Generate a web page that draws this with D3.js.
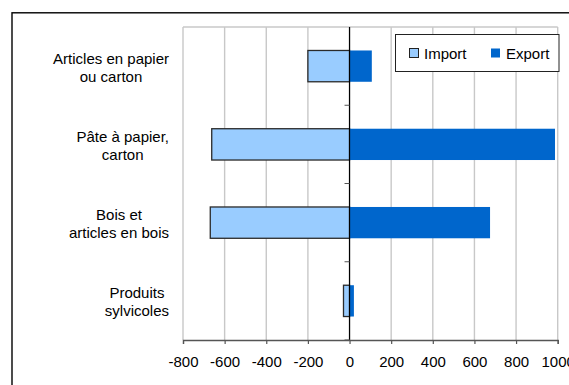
<!DOCTYPE html>
<html>
<head>
<meta charset="utf-8">
<script src="https://cdn.jsdelivr.net/npm/d3@7"></script>
<style>
  html, body { margin: 0; padding: 0; background: #fff; }
  svg { display: block; font-family: "Liberation Sans", Arial, sans-serif; }
</style>
</head>
<body>
<svg id="chart" width="569" height="385"></svg>
<script>
// Forest-products trade balance by category (import shown as negative values)
const categories = [
  ["Articles en papier", "ou carton"],
  ["Pâte à papier,", "carton"],
  ["Bois et", "articles en bois"],
  ["Produits", "sylvicoles"]
];
const importValues = [-200, -662, -669, -29];
const exportValues = [107, 987, 675, 21];
const xTicks = [-800, -600, -400, -200, 0, 200, 400, 600, 800, 1000];
const seriesNames = ["Import", "Export"];

const colors = { import: "#99ccff", export: "#0066cc" };

const svg = d3.select("#chart");
const plot = { left: 183, right: 557.7, top: 27, bottom: 340 };

const keys = categories.map(c => c.join(" "));
const x = d3.scaleLinear().domain([-800, 1000]).range([plot.left, plot.right]);
const y = d3.scaleBand().domain(keys).range([plot.top, plot.bottom])
  .paddingInner(0.6).paddingOuter(0.3);

// outer chart frame
svg.append("rect")
  .attr("x", 12).attr("y", 12.8).attr("width", 600).attr("height", 420)
  .attr("fill", "none").attr("stroke", "#000").attr("stroke-width", 1.4);

// vertical gridlines
svg.append("g").selectAll("line").data(xTicks).join("line")
  .attr("x1", d => x(d)).attr("x2", d => x(d))
  .attr("y1", plot.top).attr("y2", plot.bottom)
  .attr("stroke", "#c8c8c8").attr("stroke-width", 1.4);

// plot area top border
svg.append("line")
  .attr("x1", plot.left).attr("x2", plot.right)
  .attr("y1", plot.top).attr("y2", plot.top)
  .attr("stroke", "#c8c8c8").attr("stroke-width", 1.4);

// bars
const rows = keys.map((k, i) => ({ key: k, imp: importValues[i], exp: exportValues[i] }));

svg.append("g").selectAll("rect").data(rows).join("rect")
  .attr("x", d => x(d.imp))
  .attr("y", d => y(d.key))
  .attr("width", d => x(0) - x(d.imp))
  .attr("height", y.bandwidth())
  .attr("fill", colors.import)
  .attr("stroke", "#2a2a2a").attr("stroke-width", 1.3);

svg.append("g").selectAll("rect").data(rows).join("rect")
  .attr("x", x(0))
  .attr("y", d => y(d.key))
  .attr("width", d => x(d.exp) - x(0))
  .attr("height", y.bandwidth())
  .attr("fill", colors.export);

// category axis along zero
const zx = x(0);
svg.append("line")
  .attr("x1", zx).attr("x2", zx)
  .attr("y1", plot.top).attr("y2", plot.bottom)
  .attr("stroke", "#000").attr("stroke-width", 1.2);
const bounds = d3.range(1, keys.length + 1).map(i => plot.top + i * y.step());
svg.append("g").selectAll("line").data(bounds).join("line")
  .attr("x1", zx - 5).attr("x2", zx)
  .attr("y1", d => d).attr("y2", d => d)
  .attr("stroke", "#555").attr("stroke-width", 1);

// value axis (plain hyphen for negatives)
const xAxis = svg.append("g")
  .attr("transform", `translate(0,${plot.bottom})`)
  .call(d3.axisBottom(x).tickValues(xTicks).tickSize(4).tickPadding(12).tickFormat(d => String(d)));
xAxis.select(".domain").attr("stroke", "#555").attr("stroke-width", 1.3);
xAxis.selectAll(".tick line").attr("stroke", "#555").attr("stroke-width", 1.2);
xAxis.selectAll("text")
  .attr("font-family", "Liberation Sans, Arial, sans-serif")
  .attr("font-size", 15).attr("fill", "#000");

// category labels: each block right-aligned, lines centred inside it
const labelRight = 169;
const lineGap = 18;
categories.forEach((lines, i) => {
  const cy = y(keys[i]) + y.bandwidth() / 2;
  const g = svg.append("g");
  const texts = lines.map((ln, j) => g.append("text")
    .attr("y", cy + (j - (lines.length - 1) / 2) * lineGap + 6.5)
    .attr("text-anchor", "middle")
    .attr("font-size", 15).attr("fill", "#000")
    .text(ln));
  const w = d3.max(texts, t => t.node().getComputedTextLength());
  texts.forEach(t => t.attr("x", labelRight - w / 2));
});

// legend
const legend = svg.append("g");
legend.append("rect")
  .attr("x", 395.5).attr("y", 34.5).attr("width", 163.5).attr("height", 37)
  .attr("fill", "#fff").attr("stroke", "#222").attr("stroke-width", 1);
const legendItems = [
  { name: seriesNames[0], color: colors.import, stroke: "#222", sx: 409.5, tx: 424 },
  { name: seriesNames[1], color: colors.export, stroke: "none", sx: 491, tx: 506 }
];
legendItems.forEach(it => {
  legend.append("rect")
    .attr("x", it.sx).attr("y", 48.5).attr("width", 9).attr("height", 9)
    .attr("fill", it.color).attr("stroke", it.stroke).attr("stroke-width", 1);
  legend.append("text")
    .attr("x", it.tx).attr("y", 58.5)
    .attr("font-size", 15).attr("fill", "#000")
    .text(it.name);
});
</script>
</body>
</html>
